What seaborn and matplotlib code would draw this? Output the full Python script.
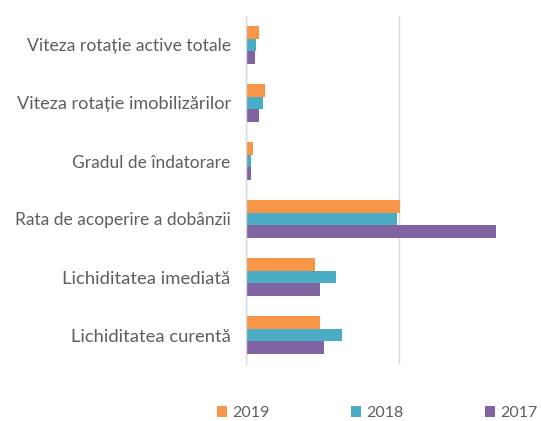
import matplotlib
matplotlib.use("Agg")
import matplotlib.pyplot as plt
import seaborn as sns
import pandas as pd

categories = [
    "Viteza rotație active totale",
    "Viteza rotație imobilizărilor",
    "Gradul de îndatorare",
    "Rata de acoperire a dobânzii",
    "Lichiditatea imediată",
    "Lichiditatea curentă",
]
years = ["2019", "2018", "2017"]
v2019 = [0.82, 1.26, 0.43, 10.08, 4.53, 4.86]
v2018 = [0.67, 1.09, 0.33, 9.84, 5.88, 6.29]
v2017 = [0.59, 0.82, 0.33, 16.34, 4.86, 5.12]

colors = ["#F79646", "#4BACC6", "#8064A2"]
label_widths_px = [205, 215, 159, 216, 168, 160]  # style: target label widths

rows = []
for yr, vals in zip(years, [v2019, v2018, v2017]):
    for c, v in zip(categories, vals):
        rows.append({"cat": c, "year": yr, "val": v})
df = pd.DataFrame(rows)

sns.set_theme(style="white")
plt.rcParams["font.family"] = ["Lato", "DejaVu Sans"]

W, H = 541, 421
fig = plt.figure(figsize=(W / 100, H / 100), dpi=100)
ax = fig.add_axes([246 / W, 1 - 364 / H, (537 - 246) / W, (364 - 16) / H])

sns.barplot(data=df, y="cat", x="val", hue="year", hue_order=years,
            order=categories, palette=colors, orient="h", width=0.66,
            linewidth=0, saturation=1, ax=ax, legend=True)

ax.set_xlim(0, 19)
ax.set_xticks([0, 10])
ax.set_xticklabels([])
ax.tick_params(axis="x", length=0)
ax.grid(axis="x", color="#D9D9D9", linewidth=1)
ax.set_axisbelow(True)
for s in ["top", "right", "bottom"]:
    ax.spines[s].set_visible(False)
ax.spines["left"].set_color("#D9D9D9")
ax.spines["left"].set_linewidth(1)
ax.set_xlabel("")
ax.set_ylabel("")
ax.tick_params(axis="y", length=0, pad=11, colors="#5E5E5E")

fig.canvas.draw()
renderer = fig.canvas.get_renderer()
for lab, tw in zip(ax.get_yticklabels(), label_widths_px):
    lab.set_fontsize(10)
    lab.set_color("#5E5E5E")
    w = lab.get_window_extent(renderer).width
    lab.set_fontsize(10 * tw / w)

handles, labels = ax.get_legend_handles_labels()
ax.get_legend().remove()
fig.legend(handles, labels, loc="upper left",
           bbox_to_anchor=(217 / W, 1 - 406 / H), ncol=3, frameon=False,
           fontsize=11.5, labelcolor="#5E5E5E", handlelength=0.65,
           handleheight=0.65, handletextpad=0.3, columnspacing=5.1,
           borderpad=0, borderaxespad=0)

fig.savefig("out.png", dpi=100)
